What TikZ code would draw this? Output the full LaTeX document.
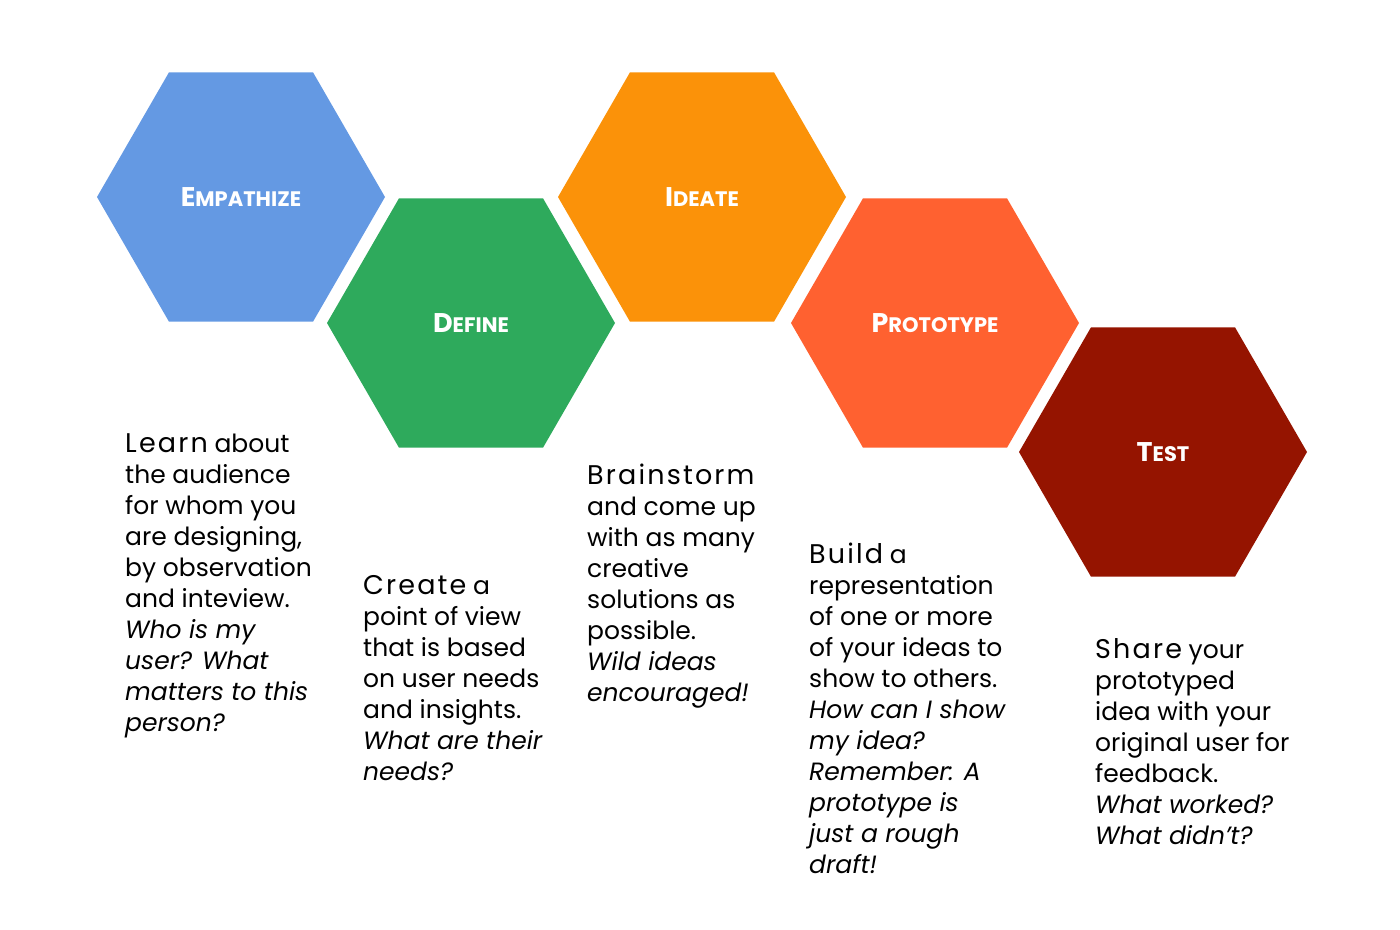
\documentclass[tikz,border=0pt]{standalone}
\usepackage{fontspec}
\setmainfont{Poppins}
\usetikzlibrary{shapes.geometric}
\begin{document}
\begin{tikzpicture}[x=1pt,y=-1pt,
  hex/.style={regular polygon,regular polygon sides=6,minimum size=288pt,inner sep=0pt,draw=none,text=white,font=\bfseries},
  txt/.style={anchor=north west,align=left,inner sep=0pt,font=\fontsize{25}{31}\selectfont}]
\useasboundingbox (0,0) rectangle (1400,929);
\definecolor{cA}{HTML}{6499E3}\definecolor{cB}{HTML}{2EAA5C}\definecolor{cC}{HTML}{FB9209}
\definecolor{cD}{HTML}{FF6130}\definecolor{cE}{HTML}{951400}
\newcommand{\hl}[2]{{\fontsize{27}{27}\selectfont #1}{\fontsize{21}{21}\selectfont #2}}
\newcommand{\fw}[1]{{\fontsize{27}{31}\selectfont\addfontfeature{LetterSpace=8}#1}}
\node[hex,fill=cA] (e) at (241,197) {\hl{E}{MPATHIZE}};
\node[hex,fill=cB] (d) at (471,323) {\hl{D}{EFINE}};
\node[hex,fill=cC] (i) at (702,197) {\hl{I}{DEATE}};
\node[hex,fill=cD] (p) at (935,323) {\hl{P}{ROTOTYPE}};
\node[hex,fill=cE] (t) at (1163,452) {\hl{T}{EST}};
\node[txt] (te) at (125,433) {\fw{Learn} about\\the audience\\for whom you\\are designing,\\by observation\\and inteview.\\\textit{Who is my}\\\textit{user? What}\\\textit{matters to this}\\\textit{person?}};
\node[txt] (td) at (363,575) {\fw{Create} a\\point of view\\that is based\\on user needs\\and insights.\\\textit{What are their}\\\textit{needs?}};
\node[txt] (ti) at (587,464) {\fw{Brainstorm}\\and come up\\with as many\\creative\\solutions as\\possible.\\\textit{Wild ideas}\\\textit{encouraged!}};
\node[txt] (tp) at (809,543) {\fw{Build} a\\representation\\of one or more\\of your ideas to\\show to others.\\\textit{How can I show}\\\textit{my idea?}\\\textit{Remember: A}\\\textit{prototype is}\\\textit{just a rough}\\\textit{draft!}};
\node[txt] (tt) at (1095,638) {\fw{Share} your\\prototyped\\idea with your\\original user for\\feedback.\\\textit{What worked?}\\\textit{What didn't?}};
\end{tikzpicture}
\end{document}
